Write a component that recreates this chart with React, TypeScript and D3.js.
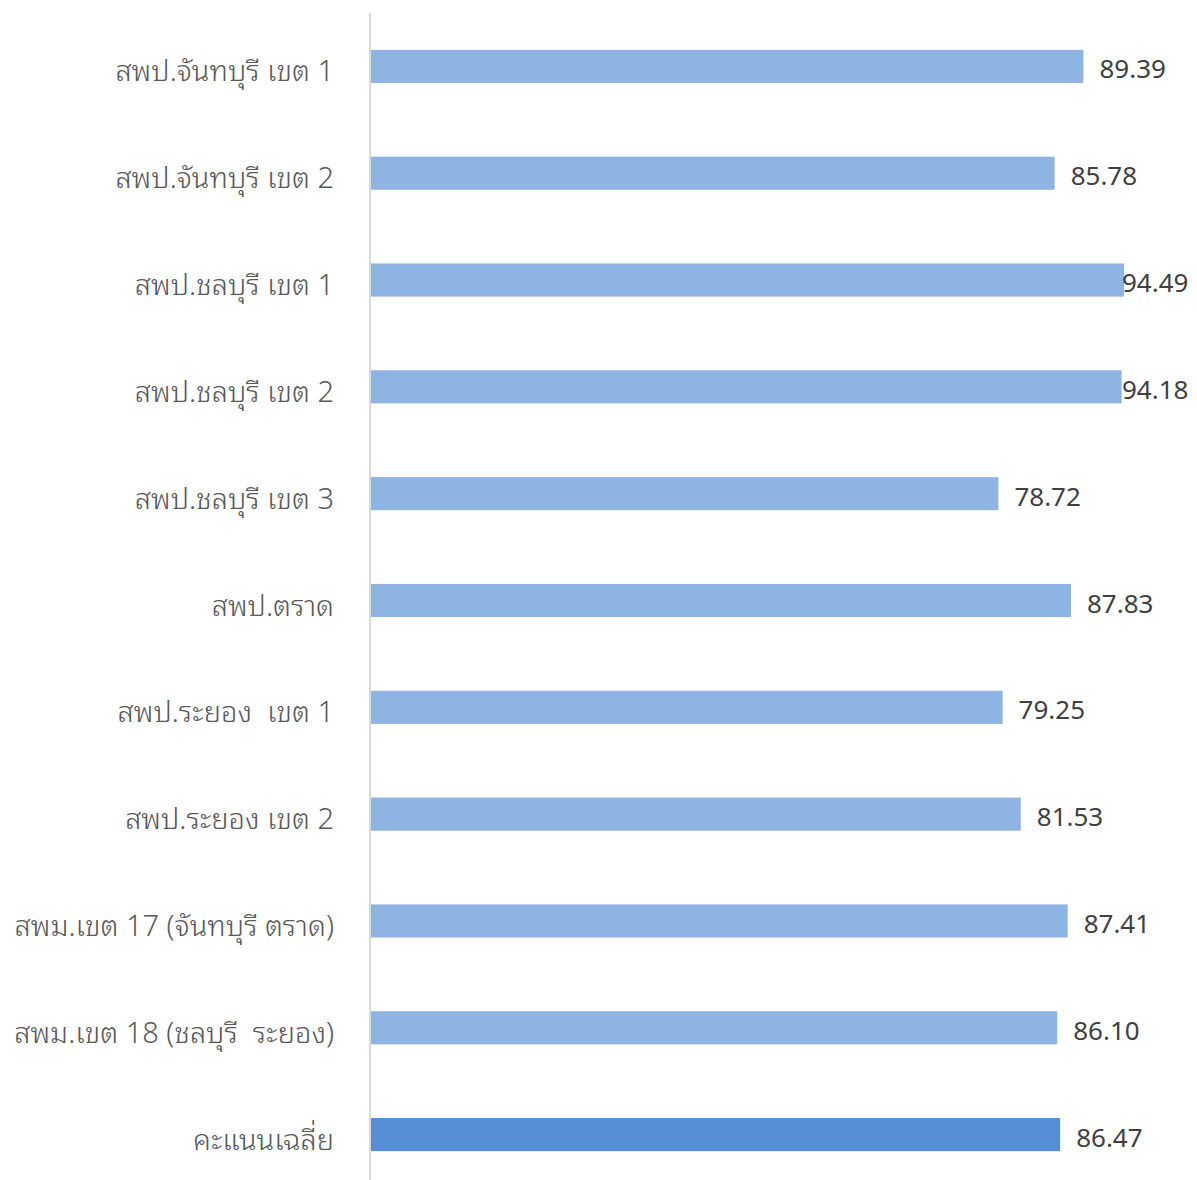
import React from "react";
import * as d3 from "d3";

const categories: string[] = [
  "สพป.จันทบุรี เขต 1",
  "สพป.จันทบุรี เขต 2",
  "สพป.ชลบุรี เขต 1",
  "สพป.ชลบุรี เขต 2",
  "สพป.ชลบุรี เขต 3",
  "สพป.ตราด",
  "สพป.ระยอง  เขต 1",
  "สพป.ระยอง เขต 2",
  "สพม.เขต 17 (จันทบุรี ตราด)",
  "สพม.เขต 18 (ชลบุรี  ระยอง)",
  "คะแนนเฉลี่ย",
];
const values: number[] = [89.39, 85.78, 94.49, 94.18, 78.72, 87.83, 79.25, 81.53, 87.41, 86.1, 86.47];
const valueLabels: string[] = ["89.39", "85.78", "94.49", "94.18", "78.72", "87.83", "79.25", "81.53", "87.41", "86.10", "86.47"];
const highlightIndex = 10;

const W = 1197;
const H = 1180;
const LABEL_FONT = "'Noto Sans Thai Looped', 'Noto Sans Thai', 'Noto Sans', sans-serif";
const VALUE_FONT = "'Noto Sans', 'Open Sans', sans-serif";

export default function App() {
  const x = d3.scaleLinear().domain([0, 100]).range([371, 1168]);
  const y = d3
    .scaleBand<number>()
    .domain(d3.range(categories.length))
    .range([13, 1188])
    .paddingInner(0.69)
    .paddingOuter(0.345);
  const bw = y.bandwidth();
  const labelW = 66;
  const rightLimit = 1188;

  return (
    <svg
      width={W}
      height={H}
      style={{ position: "absolute", left: 0, top: 0, display: "block", background: "#fff" }}
    >
      {values.map((v, i) => (
        <rect
          key={"b" + i}
          x={x(0)}
          y={y(i)!}
          width={x(v) - x(0)}
          height={bw}
          fill={i === highlightIndex ? "#558ED5" : "#8EB4E3"}
        />
      ))}
      <line x1={370} x2={370} y1={13} y2={H} stroke="#D9D9D9" strokeWidth={2} />
      {categories.map((c, i) => (
        <text
          key={"c" + i}
          x={334}
          y={y(i)! + bw / 2 + 2}
          textAnchor="end"
          dominantBaseline="central"
          fontFamily={LABEL_FONT}
          fontSize={29}
          fontWeight={300}
          fill="#595959"
          style={{ whiteSpace: "pre" }}
        >
          {c}
        </text>
      ))}
      {values.map((v, i) => {
        const lx = Math.min(x(v) + 16, rightLimit - labelW);
        return (
          <text
            key={"v" + i}
            x={lx}
            y={y(i)! + bw / 2 + 2}
            textAnchor="start"
            dominantBaseline="central"
            fontFamily={VALUE_FONT}
            fontSize={26}
            fill="#404040"
          >
            {valueLabels[i]}
          </text>
        );
      })}
    </svg>
  );
}
